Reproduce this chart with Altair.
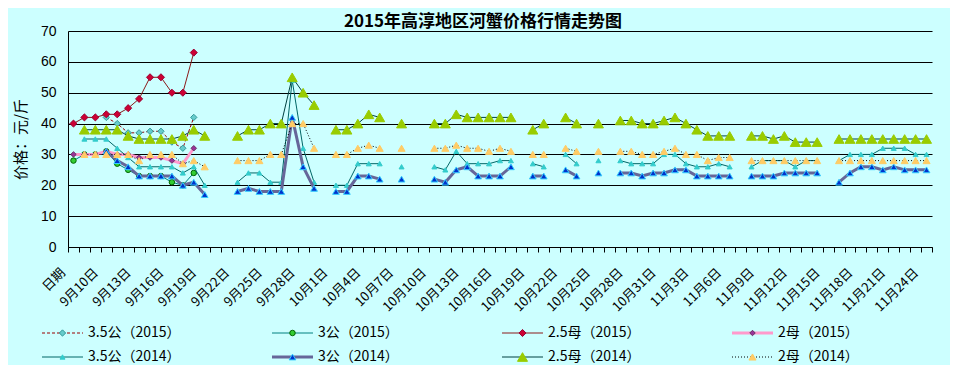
import json
import altair as alt
import pandas as pd

N = None

# ---- categories (79 slots; only every third is labelled) ----
cats = (["日期", "9月8日", "9月9日"]
        + [f"9月{d}日" for d in range(10, 31)]
        + [f"10月{d}日" for d in range(1, 32)]
        + [f"11月{d}日" for d in range(1, 25)])
shown_labels = cats[::3]


def pad(v):
    return v + [N] * (len(cats) - len(v))


# ---- 2015 series ----
s35g15 = pad([N, N, N, 42, 40, 37, 37, 37.5, 37.5, 34, 32, 42])
s3g15 = pad([28, 30, 30, 31, 27, 25, 23, 23, 23, 21, 20, 24])
s25m15 = pad([40, 42, 42, 43, 43, 45, 48, 55, 55, 50, 50, 63])
s2m15 = pad([30, 30, 30, 31, 30, 30, 29, 29, 29, 28, 27, 32])

# ---- 2014 series ----
s25m14 = [N, 38, 38, 38, 38, 36, 35, 35, 35, 35,
          36, 38, 36, N, N, 36, 38, 38, 40, 40,
          55, 50, 46, N, 38, 38, 40, 43, 42, N,
          40, N, N, 40, 40, 43, 42, 42, 42, 42,
          42, N, 38, 40, N, 42, 40, N, 40, N,
          41, 41, 40, 40, 41, 42, 40, 38, 36, 36,
          36, N, 36, 36, 35, 36, 34, 34, 34, N,
          35, 35, 35, 35, 35, 35, 35, 35, 35]
s35g14 = [N, 35, 35, 35, 32, 29, 26, 26, 26, 26,
          24, 26, 20, N, N, 21, 24, 24, 21, 21,
          54, 32, 21, N, 20, 20, 27, 27, 27, N,
          26, N, N, 26, 25, 31, 27, 27, 27, 28,
          28, N, 27, 26, N, 30, 27, N, 28, N,
          28, 27, 27, 27, 30, 30, 27, 26, 26, 27,
          26, N, 26, 28, 28, 28, 26, 28, 28, N,
          28, 30, 30, 30, 32, 32, 32, 30, 30]
s3g14 = [N, N, N, 31, 28, 26, 23, 23, 23, 23,
         20, 21, 17, N, N, 18, 19, 18, 18, 18,
         42, 26, 19, N, 18, 18, 23, 23, 22, N,
         22, N, N, 22, 21, 25, 26, 23, 23, 23,
         26, N, 23, 23, N, 25, 23, N, 24, N,
         24, 24, 23, 24, 24, 25, 25, 23, 23, 23,
         23, N, 23, 23, 23, 24, 24, 24, 24, N,
         21, 24, 26, 26, 25, 26, 25, 25, 25]
s2m14 = [N, 30, 30, 30, 30, 30, 28, 30, 30, 30,
         27, 28, 26, N, N, 28, 28, 28, 30, 30,
         40, 40, 32, N, 30, 30, 32, 33, 32, N,
         32, N, N, 32, 32, 33, 32, 32, 31, 32,
         31, N, 30, 30, N, 32, 31, N, 31, N,
         31, 31, 30, 30, 31, 32, 30, 30, 28, 29,
         29, N, 28, 28, 28, 28, 28, 28, 28, N,
         28, 28, 28, 28, 28, 28, 28, 28, 28]

series_keys = ["s35g15", "s3g15", "s25m15", "s2m15",
               "s35g14", "s3g14", "s25m14", "s2m14"]
series_labels = ["3.5公（2015）", "3公（2015）", "2.5母（2015）", "2母（2015）",
                 "3.5公（2014）", "3公（2014）", "2.5母（2014）", "2母（2014）"]
series_values = [s35g15, s3g15, s25m15, s2m15, s35g14, s3g14, s25m14, s2m14]

# styles: line colour, line width, dash, marker shape, fill, stroke, size
styles = {
    "s35g15": dict(lc="#990000", lw=1, dash=[3, 2], shape="diamond", fill="#66CCCC", stroke="#339999", size=40),
    "s3g15": dict(lc="#008080", lw=1, dash=None, shape="circle", fill="#33CC33", stroke="#006600", size=30),
    "s25m15": dict(lc="#8B1A1A", lw=1, dash=None, shape="diamond", fill="#CC0033", stroke="#990033", size=50),
    "s2m15": dict(lc="#FF99CC", lw=3, dash=None, shape="diamond", fill="#993399", stroke="#663366", size=30),
    "s35g14": dict(lc="#006666", lw=1, dash=None, shape="triangle-up", fill="#33CCCC", stroke="#33CCCC", size=25),
    "s3g14": dict(lc="#666699", lw=3, dash=None, shape="triangle-up", fill="#0033CC", stroke="#33CCFF", size=45),
    "s25m14": dict(lc="#004040", lw=1, dash=None, shape="triangle-up", fill="#99CC00", stroke="#99CC00", size=100),
    "s2m14": dict(lc="#000000", lw=1, dash=[1, 2], shape="triangle-up", fill="#FFCC66", stroke="#FFCC66", size=50),
}

df = pd.DataFrame({"cat": cats})
for k, v in zip(series_keys, series_values):
    df[k] = v

FONT = "Noto Sans CJK SC"
NUMFONT = "Liberation Sans"

label_expr = ("indexof(" + json.dumps(shown_labels, ensure_ascii=False)
              + ", datum.value) >= 0 ? datum.label : ''")

x_enc = alt.X(
    "cat:N", sort=cats, bandPosition=0.5,
    scale=alt.Scale(type="band", domain=cats, paddingInner=0, paddingOuter=0),
    axis=alt.Axis(title=None, labelAngle=-45, labelAlign="right", labelBaseline="top",
                  labelPadding=14, labelOffset=-15, labelFontSize=13, labelFont=FONT,
                  labelColor="black", tickBand="extent", tickSize=5, tickColor="black",
                  domainColor="black", labelOverlap=False, labelExpr=label_expr,
                  grid=False, labelLimit=0),
)
y_axis = alt.Axis(title="价格：元/斤", titleFont=FONT, titleFontSize=15, titleFontWeight="normal",
                  titleColor="black", titlePadding=12,
                  values=list(range(0, 71, 10)), grid=True, gridColor="black", gridWidth=1,
                  ticks=False, labelPadding=12, labelFont=NUMFONT, labelFontSize=14,
                  labelColor="black", domainColor="black")
y_scale = alt.Scale(domain=[0, 70], nice=False)

main_layers = []
for k in series_keys:
    st = styles[k]
    line_kw = dict(color=st["lc"], strokeWidth=st["lw"])
    if st["dash"]:
        line_kw["strokeDash"] = st["dash"]
    base = alt.Chart(df)
    main_layers.append(base.mark_line(**line_kw).encode(
        x=x_enc, y=alt.Y(f"{k}:Q", scale=y_scale, axis=y_axis)))
    main_layers.append(base.mark_point(shape=st["shape"], filled=True, fill=st["fill"],
                                       stroke=st["stroke"], strokeWidth=1, size=st["size"],
                                       opacity=1).encode(
        x=x_enc, y=alt.Y(f"{k}:Q", scale=y_scale, axis=y_axis)))

main = alt.layer(*main_layers)

# ---- legend (2 rows x 4 columns) ----
leg_x = alt.Scale(type="point", domain=[0, 1, 2, 3], range=[-26, 664], padding=0)
leg_y = alt.Scale(type="point", domain=[0, 1], range=[302, 326], padding=0)
legend_layers = []
for i, (k, lab) in enumerate(zip(series_keys, series_labels)):
    st = styles[k]
    ld = alt.Data(values=[{"col": i % 4, "row": i // 4, "label": lab}])
    rule_kw = dict(color=st["lc"], strokeWidth=st["lw"], x2Offset=41)
    if st["dash"]:
        rule_kw["strokeDash"] = st["dash"]
    xe = alt.X("col:O", scale=leg_x, axis=None)
    ye = alt.Y("row:O", scale=leg_y, axis=None)
    legend_layers.append(alt.Chart(ld).mark_rule(**rule_kw).encode(
        x=xe, x2=alt.X2("col"), y=ye))
    legend_layers.append(alt.Chart(ld).mark_point(
        shape=st["shape"], filled=True, fill=st["fill"], stroke=st["stroke"], strokeWidth=1,
        size=st["size"], opacity=1, xOffset=20.5).encode(x=xe, y=ye))
    legend_layers.append(alt.Chart(ld).mark_text(
        align="left", baseline="middle", dx=46, fontSize=14, font=FONT, color="black").encode(
        x=xe, y=ye, text="label:N"))

legend = alt.layer(*legend_layers)

chart = alt.layer(main, legend).resolve_scale(x="independent", y="independent").properties(
    width=864, height=216,
    title=alt.TitleParams("2015年高淳地区河蟹价格行情走势图", font=FONT, fontSize=17,
                          fontWeight="bold", anchor="middle", dx=-17, offset=-7, color="black"),
    padding={"left": 60, "top": 23, "right": 18, "bottom": 118},
    autosize=alt.AutoSizeParams(type="none"),
    background="#CCFFFF",
).configure_view(stroke=None, fill="#CCFFFF")

chart.save("out.html", embed_options={"renderer": "svg", "actions": False})
